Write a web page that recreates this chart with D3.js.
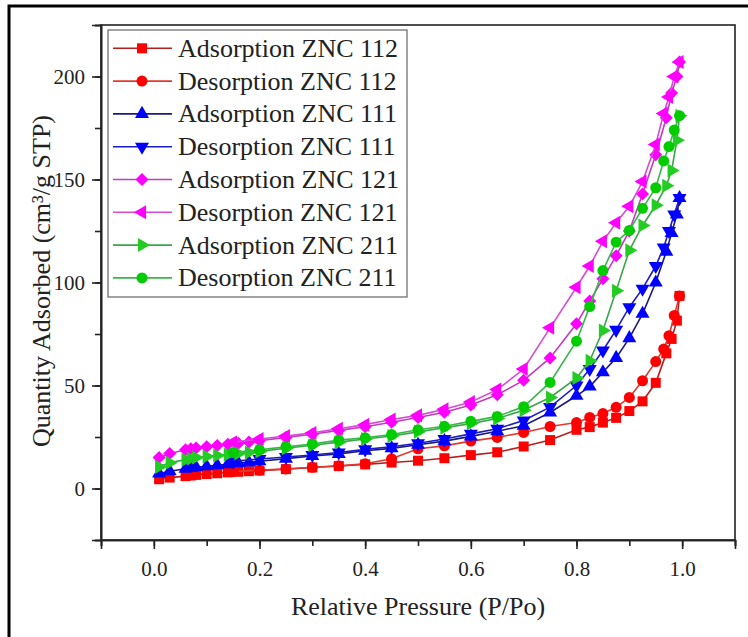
<!DOCTYPE html>
<html><head><meta charset="utf-8">
<script src="https://cdn.jsdelivr.net/npm/d3@7"></script>
<style>body{margin:0;background:#fff}svg{display:block}
svg text{font-family:"Liberation Serif","Times New Roman",Times,"DejaVu Serif",serif;}
</style>
</head><body>
<svg id="c" width="748" height="637"></svg>
<script>
// ---- data ----
const adsP = [0.01,0.03,0.06,0.07,0.08,0.1,0.12,0.14,0.16,0.18,0.2,0.25,0.3,0.35,0.4,0.45,0.5,0.55,0.6,0.65,0.7,0.75,0.8,0.825,0.85,0.875,0.9,0.925,0.95,0.97,0.98,0.99,0.995];
const desP = [0.995,0.985,0.975,0.965,0.95,0.925,0.9,0.875,0.85,0.825,0.8,0.75,0.7,0.65,0.6,0.55,0.5,0.45,0.4,0.35,0.3,0.25,0.2,0.15];

const adsZNC112 = [4.5,5.3,6.0,6.3,6.6,7.0,7.4,7.8,8.1,8.4,8.7,9.4,10.2,10.9,11.7,12.6,13.5,14.7,16.2,17.6,20.4,23.5,28.5,29.8,32,34.3,37.6,42.3,51.3,65.6,72.6,81.5,93.5];
const desZNC112 = [93.5,84,74.2,67.7,61.6,52.3,44.2,39.4,36.4,34.5,32,30.1,27.2,24.8,23,20.7,19.3,14.4,12,11,10.3,9.5,8.9,8.2];
const adsZNC111 = [7.3,8.4,9.6,10,10.3,10.8,11.3,11.8,12.3,12.7,13.2,14.5,15.8,16.8,18.3,19.5,21.2,23,25.3,27.8,30.5,36.9,45,49.5,56.4,63.4,73,84.8,100,115,124,133,141];
const desZNC111 = [141,133,125,117,108,97,88,77,67,58,50,39.5,33,29,26.5,24,22,20.3,19,17.5,16.3,15.3,14.3,13.2];
const adsZNC121 = [15,17,18.8,19.3,19.7,20.3,20.9,21.5,22,22.6,23.2,24.8,26.3,28.2,30,32.2,34.5,37,40.5,45.5,52.5,63.4,80,91,101.8,113,125,143,162,180,192,200,207];
const desZNC121 = [207,200,190,182,167,149,137,129,120,108,97.7,78,58,48,42,38.5,35.5,33.5,31,29,27,25.5,24,22.5];
const adsZNC211 = [10.5,12.5,14,14.5,15,15.5,16,16.5,17,17.5,18,19.5,21,22.5,24,25.5,27.5,29.5,31.5,34,38,44.2,53.6,62,76.7,96,115.6,127.7,137.5,147,154.4,169,181];
const desZNC211 = [181,174,166,159,146,136,125.3,119.6,105.8,88.3,71.5,51.5,39.7,35,32.6,30.2,28.5,26.2,24.6,23.5,21.6,20.2,18.8,17.5];

const seriesNames = ["Adsorption ZNC 112","Desorption ZNC 112","Adsorption ZNC 111","Desorption ZNC 111","Adsorption ZNC 121","Desorption ZNC 121","Adsorption ZNC 211","Desorption ZNC 211"];
const xTicks = [0.0,0.2,0.4,0.6,0.8,1.0];
const yTicks = [0,50,100,150,200];

// ---- styles ----
const styles = [
  {fill:"#ff0000", line:"#b81e1e", shape:"square"},
  {fill:"#ff0000", line:"#e03a30", shape:"circle"},
  {fill:"#0000ff", line:"#1a1a80", shape:"up"},
  {fill:"#0000ff", line:"#1c1cc8", shape:"down"},
  {fill:"#ff00ff", line:"#c23cc2", shape:"diamond"},
  {fill:"#ff00ff", line:"#d84ad8", shape:"left"},
  {fill:"#22cc22", line:"#3aa64a", shape:"right"},
  {fill:"#00cc00", line:"#36b846", shape:"circle"}
];
const seriesData = [
  [adsP, adsZNC112],[desP, desZNC112],[adsP, adsZNC111],[desP, desZNC111],
  [adsP, adsZNC121],[desP, desZNC121],[adsP, adsZNC211],[desP, desZNC211]
];

const svg = d3.select("#c");
// outer frame
svg.append("rect").attr("x",9).attr("y",6).attr("width",760).attr("height",660)
  .attr("fill","none").attr("stroke","#000").attr("stroke-width",3);

const L=101, R=735, T=25, B=540;
const x = d3.scaleLinear().domain([-0.1,1.1]).range([L,R]);
const y = d3.scaleLinear().domain([-25,225]).range([B,T]);

// frame
svg.append("rect").attr("x",L).attr("y",T).attr("width",R-L).attr("height",B-T)
  .attr("fill","none").attr("stroke","#222").attr("stroke-width",1.6);

function styleAxis(g){
  g.attr("font-family",null);
  g.selectAll("path.domain").attr("stroke","#222").attr("stroke-width",1.6);
  g.selectAll("line").attr("stroke","#222").attr("stroke-width",1.6);
  g.selectAll("text").attr("font-size",21).attr("fill","#222");
}
// x axis
const xMinor = d3.range(-0.1,1.1001,0.1).map(v=>+v.toFixed(2));
const xg = svg.append("g").attr("transform",`translate(0,${B})`);
xg.call(d3.axisBottom(x).tickValues(xMinor).tickSize(6).tickFormat(""));
const xg2 = xg.append("g").call(d3.axisBottom(x).tickValues(xTicks).tickSize(9).tickPadding(12).tickFormat(d3.format(".1f")));
styleAxis(xg); styleAxis(xg2);

// y axis
const yMinor = d3.range(-25,226,25);
const yg = svg.append("g").attr("transform",`translate(${L},0)`);
yg.call(d3.axisLeft(y).tickValues(yMinor).tickSize(6).tickFormat(""));
const yg2 = yg.append("g").call(d3.axisLeft(y).tickValues(yTicks).tickSize(9).tickPadding(7).tickFormat(d3.format("d")));
styleAxis(yg); styleAxis(yg2);

// titles
svg.append("text").attr("x",418).attr("y",615).attr("text-anchor","middle")
  .attr("font-size",26).attr("fill","#222").text("Relative Pressure (P/Po)");
svg.append("text").attr("transform","translate(50,281) rotate(-90)").attr("text-anchor","middle")
  .attr("font-size",26).attr("fill","#222")
  .text("Quantity Adsorbed (cm³/g STP)");

function symPath(shape){
  switch(shape){
    case "square": return {d:d3.symbol(d3.symbolSquare,100)(), rot:0};
    case "circle": return {d:d3.symbol(d3.symbolCircle,95)(), rot:0};
    case "up": return {d:d3.symbol(d3.symbolTriangle,85)(), rot:0};
    case "down": return {d:d3.symbol(d3.symbolTriangle,85)(), rot:180};
    case "left": return {d:d3.symbol(d3.symbolTriangle,85)(), rot:-90};
    case "right": return {d:d3.symbol(d3.symbolTriangle,85)(), rot:90};
    case "diamond": return {d:d3.symbol(d3.symbolSquare,85)(), rot:45};
  }
}

const line = d3.line().x(d=>x(d[0])).y(d=>y(d[1]));
const plot = svg.append("g");
seriesData.forEach((s,i)=>{
  const pts = s[0].map((p,k)=>[p,s[1][k]]);
  const st = styles[i];
  const g = plot.append("g");
  g.append("path").attr("d",line(pts)).attr("fill","none").attr("stroke",st.line).attr("stroke-width",1.6);
  const sp = symPath(st.shape);
  g.selectAll("path.m").data(pts).join("path").attr("class","m")
    .attr("d",sp.d).attr("fill",st.fill)
    .attr("transform",d=>`translate(${x(d[0])},${y(d[1])}) rotate(${sp.rot})`);
});

// legend
const lg = svg.append("g");
lg.append("rect").attr("x",108).attr("y",30).attr("width",299).attr("height",267)
  .attr("fill","#fff").attr("stroke","#666").attr("stroke-width",1.2);
seriesNames.forEach((name,i)=>{
  const cy = 48.3 + i*32.8;
  const st = styles[i];
  lg.append("line").attr("x1",113).attr("x2",172).attr("y1",cy).attr("y2",cy)
    .attr("stroke",st.line).attr("stroke-width",1.6);
  const sp = symPath(st.shape);
  lg.append("path").attr("d",sp.d).attr("fill",st.fill)
    .attr("transform",`translate(142,${cy}) rotate(${sp.rot})`);
  lg.append("text").attr("x",178).attr("y",cy+8.5)
    .attr("font-size",26).attr("fill","#222").text(name);
});
</script>
</body></html>
